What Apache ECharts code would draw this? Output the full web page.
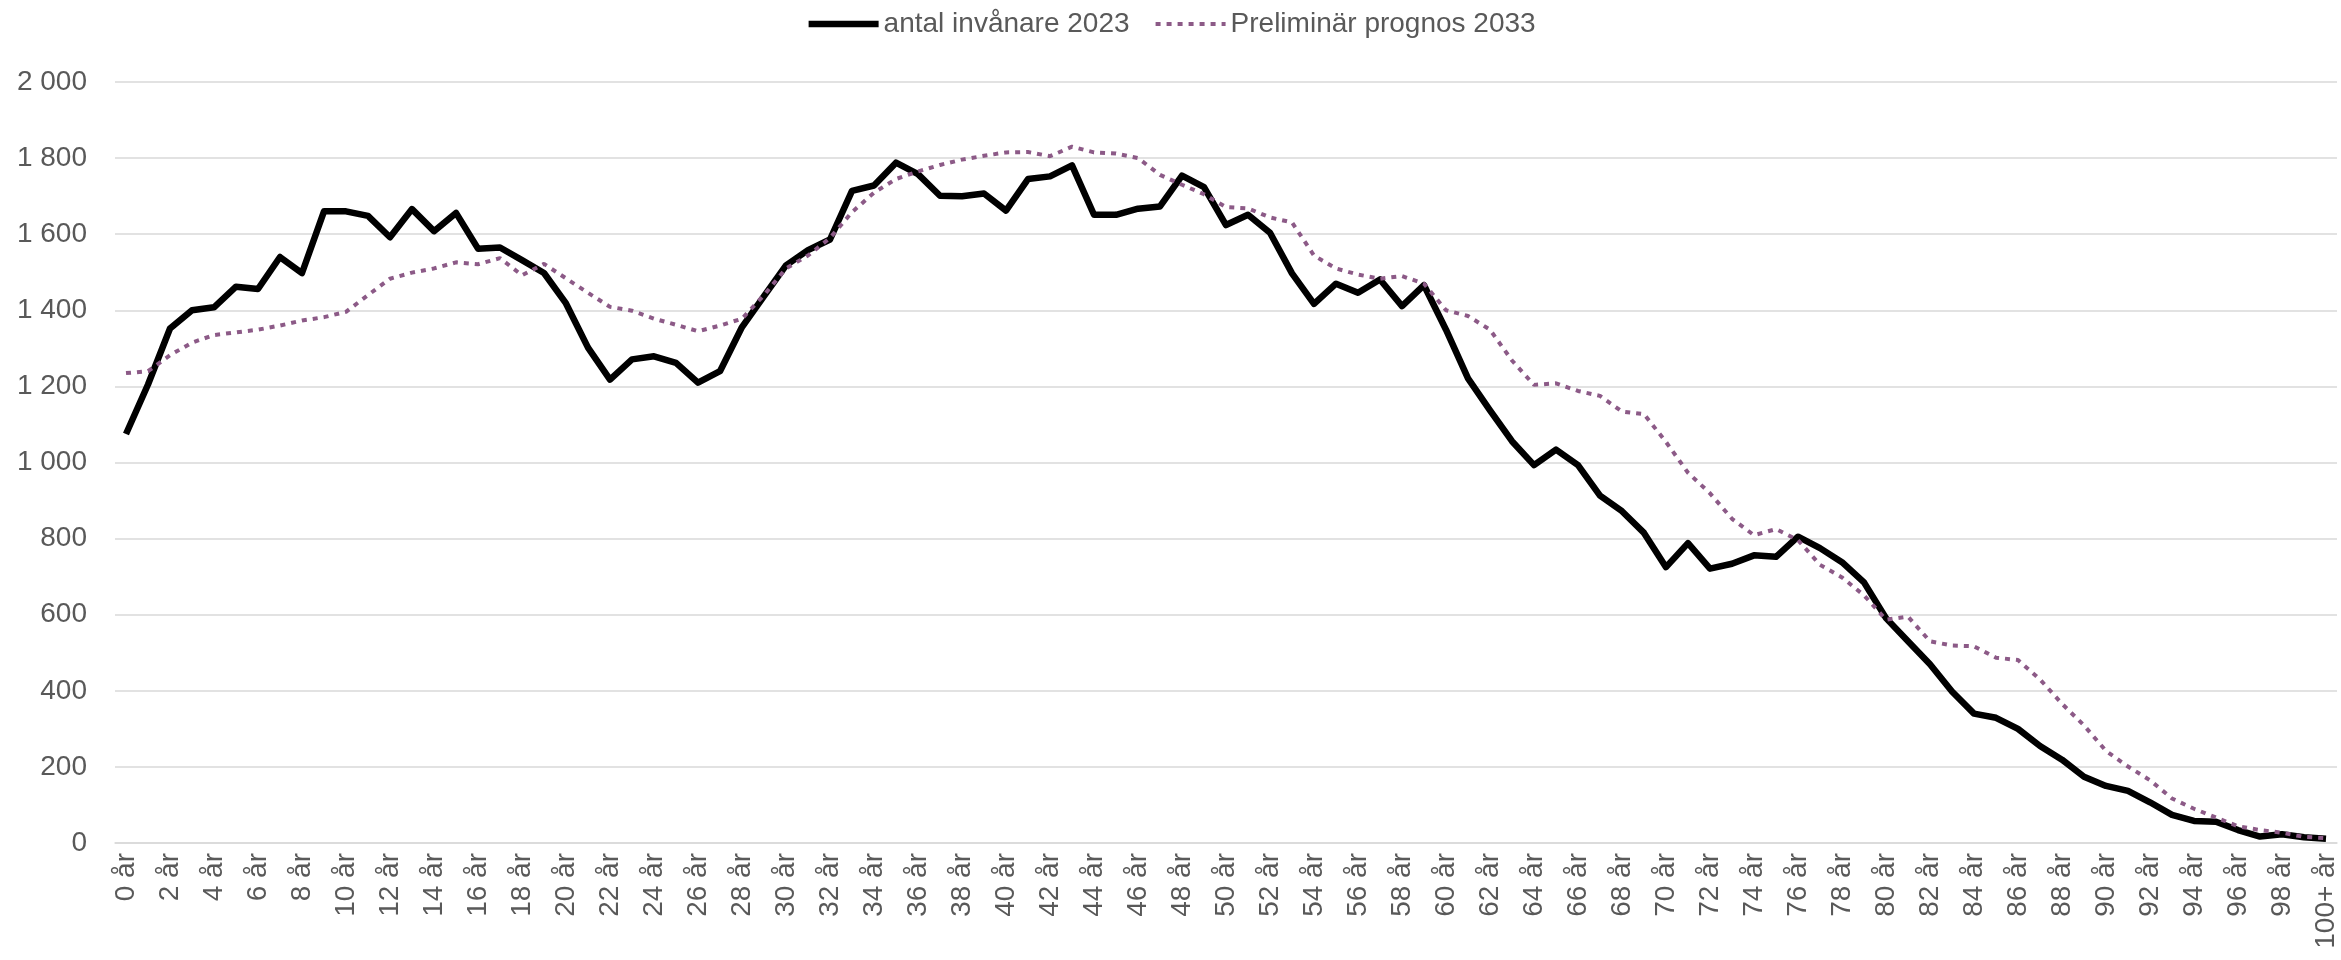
<!DOCTYPE html>
<html>
<head>
<meta charset="utf-8">
<script src="https://cdn.jsdelivr.net/npm/echarts@6/dist/echarts.min.js"></script>
<style>
  html, body { margin: 0; padding: 0; background: #fff; }
  #chart { width: 2341px; height: 960px; }
</style>
</head>
<body>
<div id="chart"></div>
<script>
// åldrar 0..99 + "100+"
const ages = [];
for (let i = 0; i < 100; i++) ages.push(i + ' år');
ages.push('100+ år');

const population2023 = [
  1075, 1205, 1352, 1400, 1408, 1462, 1456, 1540, 1498, 1660,
  1660, 1648, 1592, 1666, 1608, 1656, 1562, 1565, 1532, 1498,
  1418, 1302, 1218, 1271, 1279, 1262, 1210, 1240, 1356, 1437,
  1518, 1558, 1586, 1714, 1728, 1788, 1758, 1701, 1700, 1707,
  1662, 1745, 1752, 1781, 1651, 1651, 1667, 1673, 1754, 1724,
  1624, 1651, 1604, 1497, 1417, 1470, 1446, 1481, 1411, 1466,
  1349, 1221, 1137, 1056, 993, 1034, 993, 913, 872, 815,
  725, 788, 721, 734, 756, 752, 805, 775, 738, 685,
  591, 530, 470, 398, 340, 329, 300, 255, 219, 174,
  150, 137, 107, 74, 58, 56, 34, 17, 23, 15,
  11
];

const forecast2033 = [
  1235, 1240, 1282, 1315, 1335, 1342, 1349, 1360, 1373, 1382,
  1396, 1440, 1483, 1499, 1510, 1526, 1521, 1537, 1492, 1522,
  1484, 1446, 1409, 1399, 1378, 1362, 1345, 1360, 1378, 1440,
  1510, 1544, 1590, 1658, 1709, 1745, 1765, 1782, 1796, 1806,
  1815, 1816, 1805, 1830, 1815, 1812, 1800, 1756, 1730, 1705,
  1671, 1668, 1644, 1631, 1544, 1510, 1494, 1483, 1490, 1470,
  1400, 1385, 1349, 1268, 1204, 1208, 1188, 1175, 1134, 1127,
  1054, 973, 919, 852, 809, 825, 796, 731, 698, 651,
  587, 595, 530, 519, 517, 487, 481, 430, 366, 309,
  242, 201, 165, 117, 90, 67, 44, 34, 27, 16,
  13
];

const textColor = '#595959';
const fontFamily = '"Liberation Sans", Arial, sans-serif';
const blackLine = { color: '#000', width: 6.5, join: 'round' };
const purpleLine = { color: '#8c5a87', width: 4, type: [5, 6] };

const chart = echarts.init(document.getElementById('chart'));
chart.setOption({
  animation: false,
  textStyle: { fontFamily: fontFamily },
  legend: {
    top: 5,
    left: 'center',
    itemWidth: 70,
    itemHeight: 14,
    itemGap: 24,
    itemStyle: { opacity: 0 },
    textStyle: { color: textColor, fontSize: 28, fontFamily: fontFamily },
    data: [
      { name: 'antal invånare 2023', lineStyle: blackLine },
      { name: 'Preliminär prognos 2033', lineStyle: purpleLine }
    ]
  },
  grid: {
    left: 115,
    right: 4,
    top: 82,
    bottom: 117
  },
  xAxis: {
    type: 'category',
    data: ages,
    boundaryGap: true,
    axisLine: { lineStyle: { color: '#d9d9d9', width: 1.5 } },
    axisTick: { show: false },
    axisLabel: {
      interval: 1,
      rotate: 90,
      margin: 10,
      color: textColor,
      fontSize: 28,
      fontFamily: fontFamily
    }
  },
  yAxis: {
    type: 'value',
    min: 0,
    max: 2000,
    interval: 200,
    axisLine: { show: false },
    axisTick: { show: false },
    splitLine: { lineStyle: { color: '#d9d9d9', width: 1.5 } },
    axisLabel: {
      margin: 28,
      color: textColor,
      fontSize: 28,
      fontFamily: fontFamily,
      formatter: v => String(v).replace(/\B(?=(\d{3})+(?!\d))/g, ' ')
    }
  },
  series: [
    {
      name: 'antal invånare 2023',
      type: 'line',
      data: population2023,
      symbol: 'none',
      z: 3,
      lineStyle: blackLine,
      itemStyle: { color: '#000' }
    },
    {
      name: 'Preliminär prognos 2033',
      type: 'line',
      data: forecast2033,
      symbol: 'none',
      z: 4,
      lineStyle: purpleLine,
      itemStyle: { color: '#8c5a87' }
    }
  ]
});
</script>
</body>
</html>
